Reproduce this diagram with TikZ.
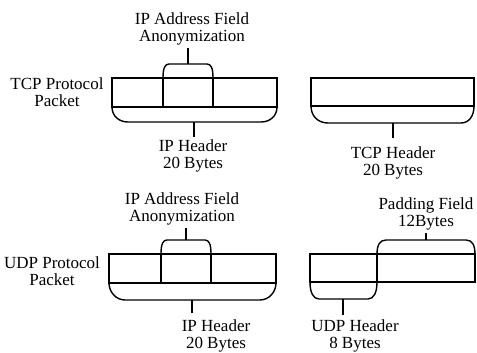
\documentclass[tikz,border=0pt]{standalone}
\usepackage{fontspec}
\setmainfont{Liberation Serif}
\begin{document}
\begin{tikzpicture}[x=1pt,y=-1pt,line width=1.4pt,
    lbl/.style={align=center,inner sep=2pt,anchor=north,font=\fontsize{17}{17}\selectfont}]
\useasboundingbox (0,0) rectangle (477,353);

% labels
\node[lbl] (anonA) at (192,10) {IP Address Field\\Anonymization};
\node[lbl] (tcpPkt) at (57,75) {TCP Protocol\\Packet};
\node[lbl] (ipA) at (193,137) {IP Header\\20 Bytes};
\node[lbl] (tcpHdr) at (393,144) {TCP Header\\20 Bytes};
\node[lbl] (anonB) at (182,190) {IP Address Field\\Anonymization};
\node[lbl] (udpPkt) at (52,254) {UDP Protocol\\Packet};
\node[lbl] (ipB) at (216,317) {IP Header\\20 Bytes};
\node[lbl] (padFld) at (426,195) {Padding Field\\12Bytes};
\node[lbl] (udpHdr) at (355,317) {UDP Header\\8 Bytes};

% TCP packet, IP part
\draw (112,78) rectangle (277,107);
\draw (163,78) -- (163,107);
\draw (213,78) -- (213,107);
\draw (163,78) .. controls (163,68) and (165,64) .. (169,64) -- (207,64)
      .. controls (211,64) and (213,68) .. (213,78);
\draw (112,107) .. controls (112,116) and (119,122) .. (128,122) -- (261,122)
      .. controls (270,122) and (277,116) .. (277,107);
\coordinate (tA) at (188,64);
\coordinate (bA) at (194,122);
\draw (tA) -- (tA |- anonA.south);
\draw (bA) -- (bA |- ipA.north);

% TCP packet, TCP header
\draw (311,78) rectangle (474,106);
\draw (311,106) .. controls (311,116) and (318,123) .. (328,123) -- (461,123)
      .. controls (469,123) and (474,116) .. (474,106);
\coordinate (bT) at (393,123);
\draw[shorten >=6pt] (bT) -- (bT |- tcpHdr.north);

% UDP packet, IP part
\draw (109,254) rectangle (276,283);
\draw (161,254) -- (161,283);
\draw (211,254) -- (211,283);
\draw (161,254) .. controls (161,244) and (163,240) .. (167,240) -- (205,240)
      .. controls (209,240) and (211,244) .. (211,254);
\draw (109,283) .. controls (109,292) and (116,300) .. (125,300) -- (260,300)
      .. controls (269,300) and (276,292) .. (276,283);
\coordinate (tB) at (186,240);
\coordinate (bB) at (192,300);
\draw (tB) -- (tB |- anonB.south);
\draw[shorten >=4pt] (bB) -- (bB |- ipB.north);

% UDP packet, UDP header and padding
\draw (310,254) rectangle (377,282);
\draw (377,254) rectangle (475,282);
\draw (377,254) .. controls (377,245) and (380,240) .. (386,240) -- (466,240)
      .. controls (472,240) and (475,245) .. (475,254);
\draw (310,282) .. controls (310,292) and (313,299) .. (319,299) -- (368,299)
      .. controls (374,299) and (377,292) .. (377,282);
\coordinate (tP) at (426,240);
\coordinate (bU) at (343,299);
\draw (tP) -- (tP |- padFld.south);
\draw[shorten >=2pt] (bU) -- (bU |- udpHdr.north);
\end{tikzpicture}
\end{document}
